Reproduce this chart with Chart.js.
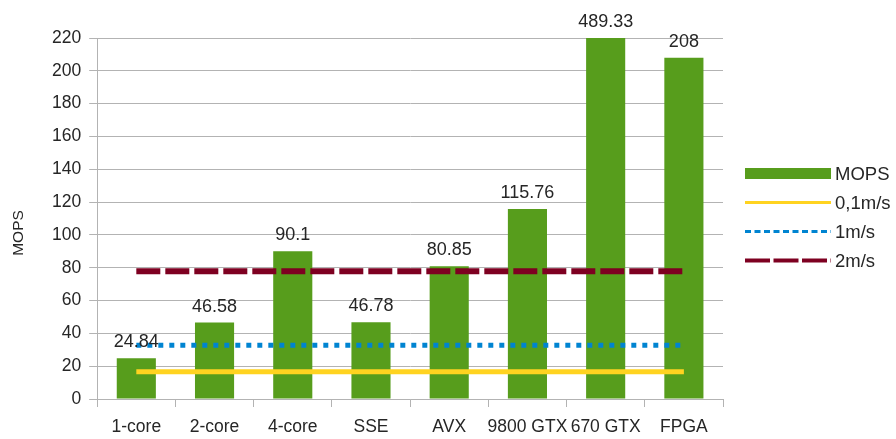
<!DOCTYPE html>
<html>
<head>
<meta charset="utf-8">
<script src="https://cdn.jsdelivr.net/npm/chart.js@4"></script>
<style>
  body { margin: 0; background: #fff; }
  #wrap { width: 896px; height: 439px; }
</style>
</head>
<body>
<div id="wrap"><canvas id="mopsChart"></canvas></div>
<script>
// Chart data
const categories = ["1-core", "2-core", "4-core", "SSE", "AVX", "9800 GTX", "670 GTX", "FPGA"];
const mops = [24.84, 46.58, 90.1, 46.78, 80.85, 115.76, 489.33, 208];
const speed01 = [16.6, 16.6, 16.6, 16.6, 16.6, 16.6, 16.6, 16.6];
const speed1 = [32.8, 32.8, 32.8, 32.8, 32.8, 32.8, 32.8, 32.8];
const speed2 = [77.8, 77.8, 77.8, 77.8, 77.8, 77.8, 77.8, 77.8];
const yTicks = [0, 20, 40, 60, 80, 100, 120, 140, 160, 180, 200, 220];
const yTitle = "MOPS";

const FONT = "'Liberation Sans', Arial, sans-serif";
const TEXT = "#262626";
const GRID = "#b3b3b3";
const legendLineWidths = [0, 3, 3, 4];
const legendDashes = [[], [], [6, 3.5], [25, 3.5]];

// draws the value above every bar (clipped bars get it above the top)
const valueLabels = {
  id: "valueLabels",
  afterDatasetsDraw(chart) {
    const ctx = chart.ctx;
    const meta = chart.getDatasetMeta(0);
    const top = chart.chartArea.top;
    ctx.save();
    ctx.font = "18px " + FONT;
    ctx.fillStyle = TEXT;
    ctx.textAlign = "center";
    ctx.textBaseline = "bottom";
    meta.data.forEach((bar, i) => {
      const y = Math.max(bar.y, top);
      ctx.fillText(String(mops[i]), bar.x, y - 7);
    });
    ctx.restore();
  },
};

// legend on the right plus the y title, drawn by hand
const sideTexts = {
  id: "sideTexts",
  afterDraw(chart) {
    const ctx = chart.ctx;
    const area = chart.chartArea;
    const x0 = area.right + 22;
    const keyW = 86;
    const rowH = 29;
    const datasets = chart.data.datasets;
    const midY = (area.top + area.bottom) / 2 - 1.5;
    ctx.save();
    ctx.font = "18.5px " + FONT;
    ctx.textBaseline = "middle";
    ctx.textAlign = "left";
    datasets.forEach((ds, i) => {
      const y = midY + (i - (datasets.length - 1) / 2) * rowH;
      if (ds.type === "bar") {
        ctx.fillStyle = ds.backgroundColor;
        ctx.fillRect(x0, y - 5.5, keyW, 11);
      } else {
        ctx.strokeStyle = ds.borderColor;
        ctx.lineWidth = legendLineWidths[i];
        ctx.setLineDash(legendDashes[i]);
        ctx.beginPath();
        ctx.moveTo(x0, y);
        ctx.lineTo(x0 + keyW, y);
        ctx.stroke();
        ctx.setLineDash([]);
      }
      ctx.fillStyle = TEXT;
      ctx.fillText(ds.label, x0 + keyW + 4, y + 1);
    });

    // rotated axis title, sits a bit below the plot middle
    ctx.translate(18.8, midY + 16);
    ctx.rotate(-Math.PI / 2);
    ctx.font = "15.5px " + FONT;
    ctx.textAlign = "center";
    ctx.fillText(yTitle, 0, 0);
    ctx.restore();
  },
};

const ctx = document.getElementById("mopsChart").getContext("2d");
const mopsChart = new Chart(ctx, {
  data: {
    labels: categories,
    datasets: [
      {
        type: "bar",
        label: "MOPS",
        data: mops,
        backgroundColor: "#579d1c",
        borderColor: "#579d1c",
        barPercentage: 0.5,
        categoryPercentage: 1,
        order: 1,
      },
      {
        type: "line",
        label: "0,1m/s",
        data: speed01,
        borderColor: "#ffd320",
        backgroundColor: "#ffd320",
        borderWidth: 5,
        pointRadius: 0,
        order: 0,
      },
      {
        type: "line",
        label: "1m/s",
        data: speed1,
        borderColor: "#0084d1",
        backgroundColor: "#0084d1",
        borderWidth: 5,
        borderDash: [5, 6],
        pointRadius: 0,
        order: 0,
      },
      {
        type: "line",
        label: "2m/s",
        data: speed2,
        borderColor: "#7e0021",
        backgroundColor: "#7e0021",
        borderWidth: 6,
        borderDash: [24, 5],
        pointRadius: 0,
        order: 0,
      },
    ],
  },
  options: {
    responsive: true,
    maintainAspectRatio: false,
    animation: false,
    layout: { padding: { top: 38, bottom: 0, left: 44, right: 173 } },
    plugins: {
      tooltip: { enabled: false },
      legend: { display: false },
    },
    scales: {
      x: {
        grid: {
          offset: true,
          color: (c) => (c.index === categories.length ? GRID : "rgba(0,0,0,0)"),
          tickColor: GRID,
          tickLength: 8,
        },
        border: { color: GRID },
        ticks: {
          color: TEXT,
          font: { family: FONT, size: 17.5, lineHeight: 1 },
          maxRotation: 0,
          autoSkip: false,
          padding: 11,
        },
        afterFit: (axis) => {
          axis.height = 40;
        },
      },
      y: {
        min: 0,
        max: 220,
        afterBuildTicks: (axis) => {
          axis.ticks = yTicks.map((v) => ({ value: v }));
        },
        grid: { color: GRID, tickColor: GRID, tickLength: 8 },
        border: { color: GRID },
        ticks: { color: TEXT, font: { family: FONT, size: 17.5 }, padding: 8 },
      },
    },
  },
  plugins: [valueLabels, sideTexts],
});
</script>
</body>
</html>
